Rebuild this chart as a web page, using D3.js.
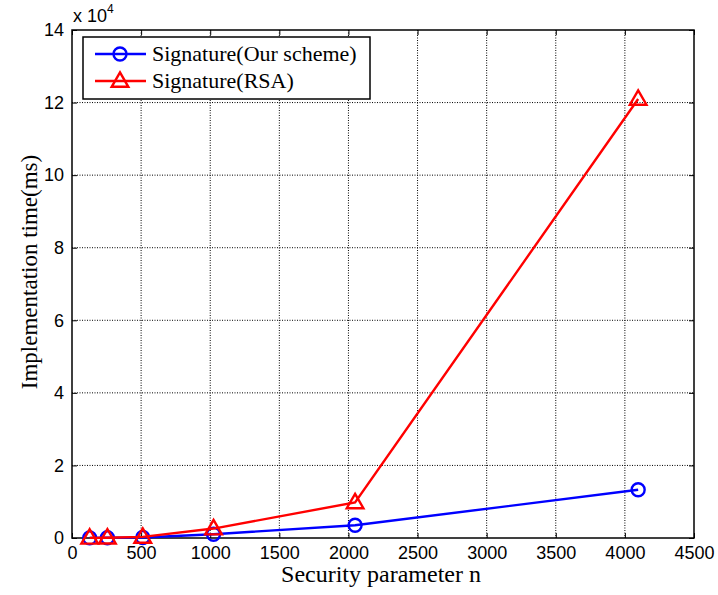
<!DOCTYPE html>
<html>
<head>
<meta charset="utf-8">
<script src="https://cdn.jsdelivr.net/npm/d3@7"></script>
<style>
body { margin: 0; background: #fff; }
</style>
</head>
<body>
<svg id="chart" width="718" height="595"></svg>
<script>
var xValues = [128, 256, 512, 1024, 2048, 4096];
var oursValues = [30, 60, 150, 1050, 3500, 13300];
var rsaValues = [40, 80, 300, 2600, 9800, 121000];
var xTicks = [0, 500, 1000, 1500, 2000, 2500, 3000, 3500, 4000, 4500];
var yTicks = [0, 20000, 40000, 60000, 80000, 100000, 120000, 140000];
var seriesNames = ["Signature(Our scheme)", "Signature(RSA)"];

var margin = {left: 72, top: 30, right: 24, bottom: 57},
	width = 718 - margin.left - margin.right,
	height = 595 - margin.top - margin.bottom;

var svg = d3.select("#chart");
var g = svg.append("g").attr("transform", "translate(" + margin.left + "," + margin.top + ")");

var x = d3.scaleLinear().domain([0, 4500]).range([0, width]);
var y = d3.scaleLinear().domain([0, 140000]).range([height, 0]);

// grid
g.append("g").selectAll("line").data(xTicks.slice(1, -1)).enter().append("line")
	.attr("x1", function(d) { return x(d); }).attr("x2", function(d) { return x(d); })
	.attr("y1", 0).attr("y2", height)
	.attr("stroke", "#000").attr("stroke-width", 1).attr("stroke-dasharray", "1,1.5");
g.append("g").selectAll("line").data(yTicks.slice(1, -1)).enter().append("line")
	.attr("y1", function(d) { return y(d); }).attr("y2", function(d) { return y(d); })
	.attr("x1", 0).attr("x2", width)
	.attr("stroke", "#000").attr("stroke-width", 1).attr("stroke-dasharray", "1,1.5");

// axes (ticks inward, box)
function styleAxis(sel) {
	sel.select(".domain").remove();
	sel.selectAll("text").attr("font-family", "Liberation Sans, Arial, sans-serif").attr("font-size", 18).attr("fill", "#000");
	sel.selectAll("line").attr("stroke", "#000");
}
g.append("g").attr("transform", "translate(0," + height + ")")
	.call(d3.axisBottom(x).tickValues(xTicks).tickSize(-5).tickPadding(8).tickFormat(d3.format("d")))
	.call(styleAxis);
g.append("g")
	.call(d3.axisTop(x).tickValues(xTicks).tickSize(-5).tickFormat(""))
	.call(styleAxis);
g.append("g")
	.call(d3.axisLeft(y).tickValues(yTicks).tickSize(-5).tickPadding(8).tickFormat(function(d) { return d / 10000; }))
	.call(styleAxis);
g.append("g").attr("transform", "translate(" + width + ",0)")
	.call(d3.axisRight(y).tickValues(yTicks).tickSize(-5).tickFormat(""))
	.call(styleAxis);

g.append("rect").attr("width", width).attr("height", height)
	.attr("fill", "none").attr("stroke", "#000").attr("stroke-width", 1.5);

// exponent
var expo = svg.append("text").attr("x", margin.left + 1).attr("y", margin.top - 8)
	.attr("font-family", "Liberation Sans, Arial, sans-serif").attr("font-size", 18);
expo.append("tspan").text("x  10");
expo.append("tspan").attr("font-size", 12).attr("dy", -9).text("4");

// axis labels
svg.append("text").attr("x", 381).attr("y", 582)
	.attr("text-anchor", "middle").attr("font-family", "Liberation Serif, Times New Roman, serif")
	.attr("font-size", 24).text("Security parameter n");
svg.append("text").attr("transform", "translate(37,272) rotate(-90)")
	.attr("text-anchor", "middle").attr("font-family", "Liberation Serif, Times New Roman, serif")
	.attr("font-size", 23).text("Implementation time(ms)");

var line = d3.line().x(function(d) { return x(d[0]); }).y(function(d) { return y(d[1]); });
var oursData = xValues.map(function(v, i) { return [v, oursValues[i]]; });
var rsaData = xValues.map(function(v, i) { return [v, rsaValues[i]]; });

var tri = d3.symbol().type(d3.symbolTriangle).size(120);

function drawSeries(data, color, marker) {
	g.append("path").datum(data).attr("d", line)
		.attr("fill", "none").attr("stroke", color).attr("stroke-width", 2.4);
	var m = g.append("g").selectAll("g").data(data).enter().append("g")
		.attr("transform", function(d) { return "translate(" + x(d[0]) + "," + y(d[1]) + ")"; });
	drawMarker(m, color, marker);
}
function drawMarker(sel, color, marker) {
	if (marker === "circle") {
		sel.append("circle").attr("r", 6.5).attr("fill", "none").attr("stroke", color).attr("stroke-width", 2.4);
	} else {
		sel.append("path").attr("d", tri).attr("transform", "translate(0,1)")
			.attr("fill", "none").attr("stroke", color).attr("stroke-width", 2.4);
	}
}
drawSeries(oursData, "#0000ff", "circle");
drawSeries(rsaData, "#ff0000", "triangle");

// legend
var legend = g.append("g").attr("transform", "translate(11,7)");
legend.append("rect").attr("width", 287).attr("height", 62)
	.attr("fill", "#fff").attr("stroke", "#000").attr("stroke-width", 1.5);
var colors = ["#0000ff", "#ff0000"], markers = ["circle", "triangle"];
seriesNames.forEach(function(name, i) {
	var row = legend.append("g").attr("transform", "translate(0," + (17 + i * 27) + ")");
	row.append("line").attr("x1", 12).attr("x2", 63).attr("stroke", colors[i]).attr("stroke-width", 2.4);
	drawMarker(row.append("g").attr("transform", "translate(37,0)"), colors[i], markers[i]);
	row.append("text").attr("x", 69).attr("y", 7)
		.attr("font-family", "Liberation Serif, Times New Roman, serif").attr("font-size", 22)
		.text(name);
});
</script>
</body>
</html>
